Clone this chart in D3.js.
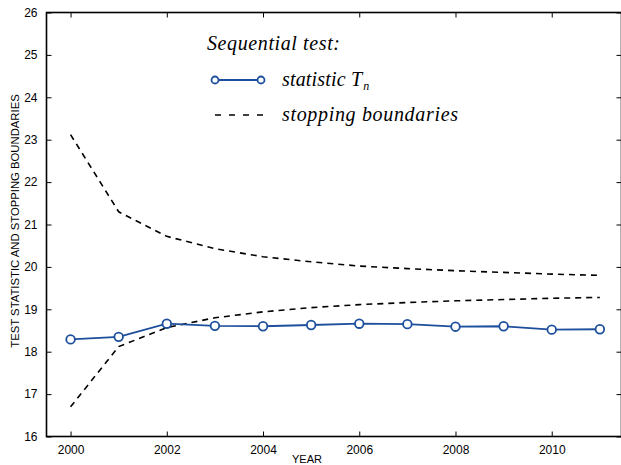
<!DOCTYPE html>
<html><head><meta charset="utf-8">
<script src="https://cdn.jsdelivr.net/npm/d3@7"></script>
<style>body{margin:0;background:#fff}svg{display:block}</style>
</head><body>
<script>
const years = [2000,2001,2002,2003,2004,2005,2006,2007,2008,2009,2010,2011];
const statistic = [18.29,18.35,18.66,18.61,18.60,18.63,18.66,18.65,18.59,18.60,18.52,18.53];
const upperBound = [23.12,21.30,20.72,20.43,20.24,20.12,20.02,19.96,19.91,19.87,19.83,19.80];
const lowerBound = [16.70,18.12,18.57,18.80,18.94,19.04,19.11,19.16,19.20,19.23,19.26,19.28];
const xTicks = [2000,2002,2004,2006,2008,2010];
const yTicks = [16,17,18,19,20,21,22,23,24,25,26];

const W = 621, H = 465;
const svg = d3.select("body").append("svg").attr("width", W).attr("height", H);
const x = d3.scaleLinear().domain([1999.5, 2011.45]).range([46.5, 621.5]);
const y = d3.scaleLinear().domain([16, 26]).range([436.5, 12.5]);
const blue = "#1d4f9c";
const font = "'Liberation Sans', Arial, Helvetica, sans-serif";

// box
svg.append("rect").attr("x", x.range()[0]).attr("y", y.range()[1])
  .attr("width", x.range()[1]-x.range()[0]).attr("height", y.range()[0]-y.range()[1])
  .attr("fill", "none").attr("stroke", "#000").attr("stroke-width", 1.6);

// axes
const xb = svg.append("g").attr("transform", `translate(0,${y.range()[0]})`)
  .call(d3.axisBottom(x).tickValues(xTicks).tickFormat(d3.format("d")).tickSizeInner(-5).tickSizeOuter(0).tickPadding(9));
const xt = svg.append("g").attr("transform", `translate(0,${y.range()[1]})`)
  .call(d3.axisTop(x).tickValues(xTicks).tickFormat("").tickSizeInner(-5).tickSizeOuter(0));
const yl = svg.append("g").attr("transform", `translate(${x.range()[0]},0)`)
  .call(d3.axisLeft(y).tickValues(yTicks).tickFormat(d3.format("d")).tickSizeInner(-5).tickSizeOuter(0).tickPadding(9));
const yr = svg.append("g").attr("transform", `translate(${x.range()[1]},0)`)
  .call(d3.axisRight(y).tickValues(yTicks).tickFormat("").tickSizeInner(-5).tickSizeOuter(0));
[xb,xt,yl,yr].forEach(g => {
  g.select(".domain").remove();
  g.selectAll("line").attr("stroke", "#000").attr("stroke-width", 1);
  g.selectAll("text").attr("font-family", font).attr("font-size", 12).attr("fill", "#000");
});

// axis labels
svg.append("text").attr("x", (x.range()[0]+x.range()[1])/2 - 27).attr("y", 463)
  .attr("text-anchor", "middle").attr("font-family", font).attr("font-size", 11).text("YEAR");
svg.append("text").attr("transform", "translate(19,221) rotate(-90)")
  .attr("text-anchor", "middle").attr("font-family", font).attr("font-size", 11.3)
  .text("TEST STATISTIC AND STOPPING BOUNDARIES");

// boundaries
const line = d3.line().x((d,i) => x(years[i])).y(d => y(d));
[upperBound, lowerBound].forEach(arr => {
  svg.append("path").attr("d", line(arr)).attr("fill", "none")
    .attr("stroke", "#000").attr("stroke-width", 1.6).attr("stroke-dasharray", "6,5");
});

// statistic
svg.append("path").attr("d", line(statistic)).attr("fill", "none")
  .attr("stroke", blue).attr("stroke-width", 1.8);
svg.selectAll("circle.pt").data(statistic).enter().append("circle")
  .attr("class", "pt").attr("cx", (d,i) => x(years[i])).attr("cy", d => y(d))
  .attr("r", 4.3).attr("fill", "#fff").attr("stroke", blue).attr("stroke-width", 1.8);

// legend
const serif = "'Liberation Serif', 'Times New Roman', serif";
svg.append("text").attr("x", 207).attr("y", 50).attr("font-family", serif)
  .attr("font-style", "italic").attr("font-size", 20)
  .attr("textLength", 133).attr("lengthAdjust", "spacing").text("Sequential test:");
svg.append("line").attr("x1", 215).attr("x2", 261).attr("y1", 80).attr("y2", 80)
  .attr("stroke", blue).attr("stroke-width", 1.8);
[215, 261].forEach(cx => svg.append("circle").attr("cx", cx).attr("cy", 80).attr("r", 3.5)
  .attr("fill", "#fff").attr("stroke", blue).attr("stroke-width", 1.8));
const t1 = svg.append("text").attr("x", 282).attr("y", 86).attr("font-family", serif)
  .attr("font-style", "italic").attr("font-size", 20);
t1.append("tspan").attr("textLength", 80).attr("lengthAdjust", "spacing").text("statistic T");
t1.append("tspan").attr("font-size", 12).attr("dx", 1).attr("dy", 4).text("n");
svg.append("line").attr("x1", 215).attr("x2", 264).attr("y1", 115).attr("y2", 115)
  .attr("stroke", "#000").attr("stroke-width", 1.6).attr("stroke-dasharray", "6,8");
svg.append("text").attr("x", 282).attr("y", 121).attr("font-family", serif)
  .attr("font-style", "italic").attr("font-size", 20)
  .attr("textLength", 176).attr("lengthAdjust", "spacing").text("stopping boundaries");
</script>
</body></html>
